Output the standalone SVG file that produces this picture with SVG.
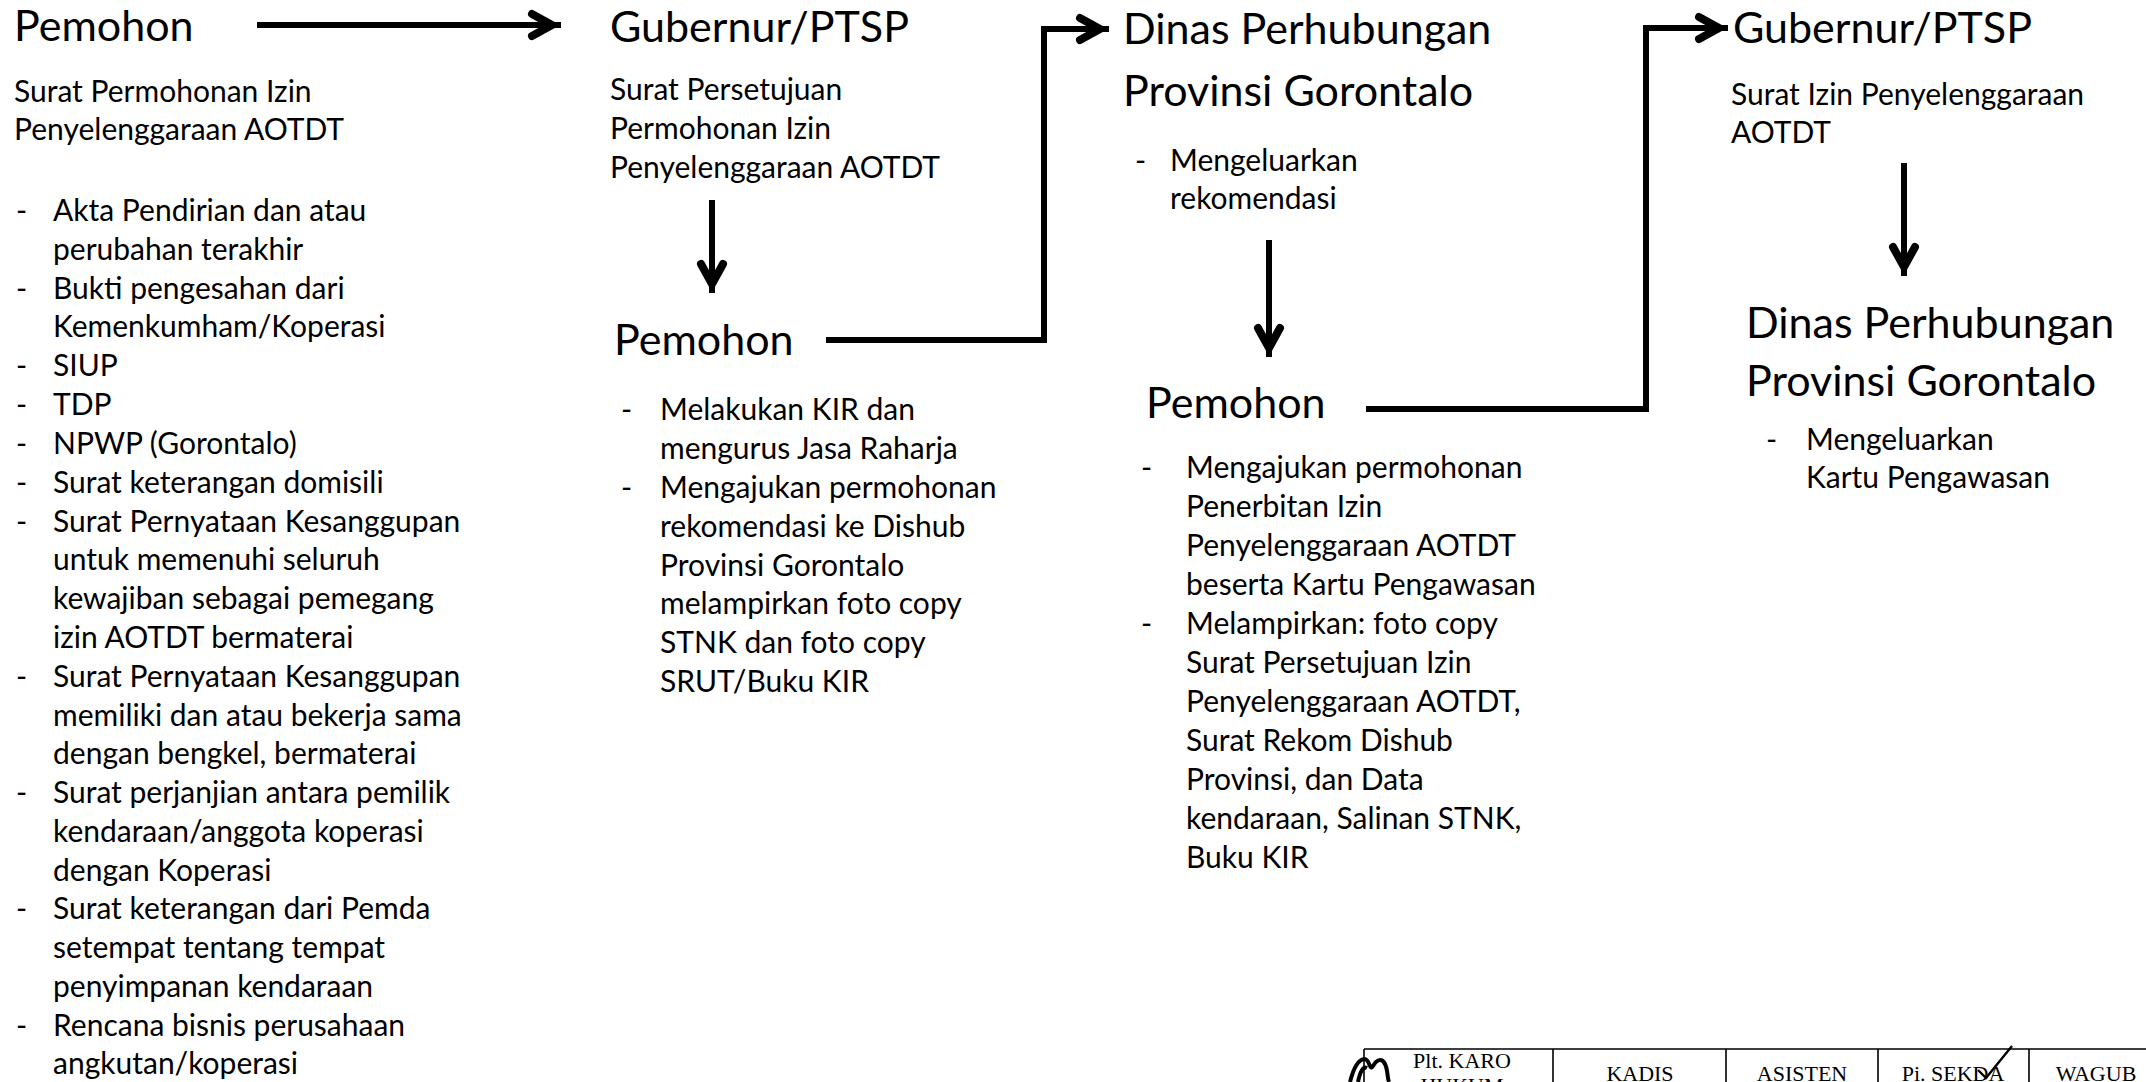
<svg xmlns="http://www.w3.org/2000/svg" width="2146" height="1082" viewBox="0 0 2146 1082">
<style>
text{font-family:Lato,"Open Sans","Liberation Sans",sans-serif;fill:#000}
.t{font-size:43px}
.b{font-size:30px}
.d{font-size:30px}
.c{fill:none;stroke:#000;stroke-width:6;stroke-linejoin:miter}
.tb text{font-family:"Liberation Serif","Times New Roman",serif;font-size:22px;text-anchor:middle}
.tl{fill:none;stroke:#000;stroke-width:1.6}
</style>
<defs>
<marker id="ah" markerUnits="userSpaceOnUse" viewBox="-40 -20 44 40" markerWidth="44" markerHeight="40" refX="0" refY="0" orient="auto" overflow="visible">
<path d="M-29,-11 L-9,0 L-29,11" fill="none" stroke="#000" stroke-width="8" stroke-linejoin="miter" stroke-linecap="round"/>
</marker>
</defs>
<rect width="2146" height="1082" fill="#fff"/>

<g id="connectors">
<path class="c" d="M257,25 H561" marker-end="url(#ah)"/>
<path class="c" d="M826,340 H1044 V29 H1109" marker-end="url(#ah)"/>
<path class="c" d="M1366,409 H1646 V28 H1728" marker-end="url(#ah)"/>
<path class="c" d="M712,200 V293" marker-end="url(#ah)"/>
<path class="c" d="M1269,240 V357" marker-end="url(#ah)"/>
<path class="c" d="M1904,163 V276" marker-end="url(#ah)"/>
</g>

<g id="node-pemohon-1">
<text class="t" x="14" y="41">Pemohon</text>
<text class="b" x="14" y="102">Surat Permohonan Izin</text>
<text class="b" x="14" y="140">Penyelenggaraan  AOTDT</text>
<g class="d">
<text x="16" y="221">-</text>
<text x="16" y="299">-</text>
<text x="16" y="376">-</text>
<text x="16" y="415">-</text>
<text x="16" y="454">-</text>
<text x="16" y="493">-</text>
<text x="16" y="532">-</text>
<text x="16" y="687">-</text>
<text x="16" y="803">-</text>
<text x="16" y="919">-</text>
<text x="16" y="1036">-</text>
</g>
<text class="b">
<tspan x="53" y="221">Akta Pendirian dan atau</tspan>
<tspan x="53" y="260">perubahan terakhir</tspan>
<tspan x="53" y="299">Bukti pengesahan dari</tspan>
<tspan x="53" y="337">Kemenkumham/Koperasi</tspan>
<tspan x="53" y="376">SIUP</tspan>
<tspan x="53" y="415">TDP</tspan>
<tspan x="53" y="454">NPWP (Gorontalo)</tspan>
<tspan x="53" y="493">Surat keterangan domisili</tspan>
<tspan x="53" y="532">Surat Pernyataan Kesanggupan</tspan>
<tspan x="53" y="570">untuk memenuhi seluruh</tspan>
<tspan x="53" y="609">kewajiban sebagai pemegang</tspan>
<tspan x="53" y="648">izin AOTDT bermaterai</tspan>
<tspan x="53" y="687">Surat Pernyataan Kesanggupan</tspan>
<tspan x="53" y="726">memiliki dan atau bekerja sama</tspan>
<tspan x="53" y="764">dengan bengkel, bermaterai</tspan>
<tspan x="53" y="803">Surat perjanjian antara pemilik</tspan>
<tspan x="53" y="842">kendaraan/anggota koperasi</tspan>
<tspan x="53" y="881">dengan Koperasi</tspan>
<tspan x="53" y="919">Surat keterangan dari Pemda</tspan>
<tspan x="53" y="958">setempat tentang tempat</tspan>
<tspan x="53" y="997">penyimpanan kendaraan</tspan>
<tspan x="53" y="1036">Rencana bisnis perusahaan</tspan>
<tspan x="53" y="1074">angkutan/koperasi</tspan>
</text>
</g>

<g id="node-gubernur-1">
<text class="t" x="610" y="42">Gubernur/PTSP</text>
<text class="b">
<tspan x="610" y="100">Surat Persetujuan</tspan>
<tspan x="610" y="139">Permohonan Izin</tspan>
<tspan x="610" y="178">Penyelenggaraan AOTDT</tspan>
</text>
</g>

<g id="node-pemohon-2">
<text class="t" x="614" y="355">Pemohon</text>
<text class="d" x="621" y="420">-</text>
<text class="d" x="621" y="498">-</text>
<text class="b">
<tspan x="660" y="420">Melakukan KIR dan</tspan>
<tspan x="660" y="459">mengurus Jasa Raharja</tspan>
<tspan x="660" y="498">Mengajukan permohonan</tspan>
<tspan x="660" y="537">rekomendasi ke Dishub</tspan>
<tspan x="660" y="576">Provinsi Gorontalo</tspan>
<tspan x="660" y="614">melampirkan foto copy</tspan>
<tspan x="660" y="653">STNK dan foto copy</tspan>
<tspan x="660" y="692">SRUT/Buku KIR</tspan>
</text>
</g>

<g id="node-dinas-1">
<text class="t">
<tspan x="1123" y="44">Dinas Perhubungan</tspan>
<tspan x="1123" y="106">Provinsi Gorontalo</tspan>
</text>
<text class="d" x="1135" y="171">-</text>
<text class="b">
<tspan x="1170" y="171">Mengeluarkan</tspan>
<tspan x="1170" y="209">rekomendasi</tspan>
</text>
</g>

<g id="node-pemohon-3">
<text class="t" x="1146" y="418">Pemohon</text>
<text class="d" x="1141" y="478">-</text>
<text class="d" x="1141" y="634">-</text>
<text class="b">
<tspan x="1186" y="478">Mengajukan permohonan</tspan>
<tspan x="1186" y="517">Penerbitan Izin</tspan>
<tspan x="1186" y="556">Penyelenggaraan AOTDT</tspan>
<tspan x="1186" y="595">beserta Kartu Pengawasan</tspan>
<tspan x="1186" y="634">Melampirkan: foto copy</tspan>
<tspan x="1186" y="673">Surat Persetujuan Izin</tspan>
<tspan x="1186" y="712">Penyelenggaraan AOTDT,</tspan>
<tspan x="1186" y="751">Surat Rekom Dishub</tspan>
<tspan x="1186" y="790">Provinsi, dan Data</tspan>
<tspan x="1186" y="829">kendaraan, Salinan STNK,</tspan>
<tspan x="1186" y="868">Buku KIR</tspan>
</text>
</g>

<g id="node-gubernur-2">
<text class="t" x="1733" y="43">Gubernur/PTSP</text>
<text class="b">
<tspan x="1731" y="105">Surat Izin Penyelenggaraan</tspan>
<tspan x="1731" y="143">AOTDT</tspan>
</text>
</g>

<g id="node-dinas-2">
<text class="t">
<tspan x="1746" y="338">Dinas Perhubungan</tspan>
<tspan x="1746" y="396">Provinsi Gorontalo</tspan>
</text>
<text class="d" x="1766" y="450">-</text>
<text class="b">
<tspan x="1806" y="450">Mengeluarkan</tspan>
<tspan x="1806" y="488">Kartu Pengawasan</tspan>
</text>
</g>

<g id="paraf-table" class="tb">
<path class="tl" d="M1364,1049 H2146 M1364,1049 V1082 M1553,1049 V1082 M1726,1049 V1082 M1878,1049 V1082 M2029,1049 V1082"/>
<path d="M1350,1082 C1353,1070 1358,1060 1364,1059 C1370,1058 1369,1072 1373,1066 C1377,1059 1382,1058 1385,1064 C1388,1070 1387,1077 1389,1082 M1358,1082 C1360,1072 1363,1066 1367,1068" fill="none" stroke="#000" stroke-width="4"/>
<text x="1462" y="1068">Plt. KARO</text>
<text x="1462" y="1093">HUKUM</text>
<text x="1640" y="1081">KADIS</text>
<text x="1802" y="1081">ASISTEN</text>
<text x="1953" y="1081">Pi. SEKDA</text>
<text x="2096" y="1081">WAGUB</text>
<path d="M1978,1070 L1986,1078 L2012,1046" fill="none" stroke="#000" stroke-width="2.4"/>
</g>
</svg>
